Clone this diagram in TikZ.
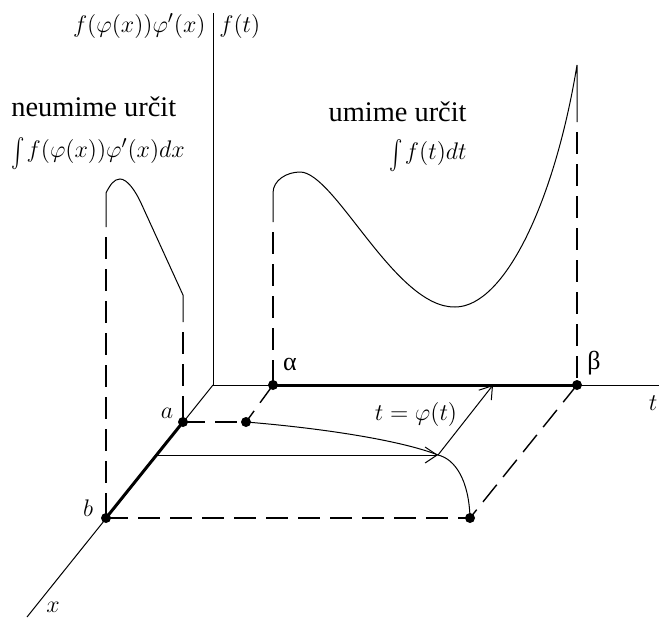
\documentclass[tikz,border=0pt]{standalone}
\usepackage{fontspec}
\setmainfont{Liberation Serif}
\usetikzlibrary{arrows.meta}

\begin{document}
\begin{tikzpicture}[x=0.5pt,y=-0.5pt,
	dsh/.style={line width=0.7pt,dash pattern=on 11pt off 5pt},
	hvy/.style={line width=1.5pt},
	arr/.style={-{Straight Barb[length=6pt,width=8pt]}},
	lab/.style={inner sep=0pt,font=\fontsize{14.2}{17}\selectfont},
	mlab/.style={inner sep=0pt,font=\fontsize{13}{15}\selectfont}]
	\useasboundingbox (0,0) rectangle (659,617);
	% axes and points
	\coordinate (O) at (213,385);
	\coordinate (ftop) at (213,13);
	\coordinate (tend) at (659,385);
	\coordinate (xend) at (27,617);
	\coordinate (a) at (183,422);
	\coordinate (b) at (106,518);
	\coordinate (al) at (273,385);
	\coordinate (be) at (577,385);
	\coordinate (p) at (246,422);
	\coordinate (q) at (470,518);
	\coordinate (s) at (157,455);
	\coordinate (m) at (438,455);
	\coordinate (n) at (493,385);
	% ends of the two graphs
	\coordinate (fl1) at (106,193);
	\coordinate (fl2) at (106,227);
	\coordinate (fr1) at (183,295);
	\coordinate (fr2) at (183,322);
	\coordinate (gl1) at (273,193);
	\coordinate (gl2) at (273,222);
	\coordinate (gr1) at (577,65);
	\coordinate (gr2) at (577,122);
	\draw[line width=0.5pt] (ftop) -- (O) -- (tend);
	\draw[line width=0.5pt] (O) -- (xend);
	% dashed projections
	\draw[dsh,dash phase=11pt] (fl2) -- (b);
	\draw[dsh,dash phase=11pt] (fr2) -- (a);
	\draw[dsh,dash phase=11pt] (gl2) -- (al);
	\draw[dsh,dash phase=11pt] (gr2) -- (be);
	\draw[dsh] (a) -- (p);
	\draw[dsh] (al) -- (p);
	\draw[dsh] (b) -- (q);
	\draw[dsh] (be) -- (q);
	% graphs
	\draw[line width=0.5pt] (fl2) -- (fl1) .. controls (110,185) and (114,179) .. (120,179)
		.. controls (127,179) and (135,190) .. (141,203) -- (fr1) -- (fr2);
	\draw[line width=0.5pt] (gl2) -- (gl1) .. controls (273,180) and (287,172) .. (300,172)
		.. controls (335,172) and (395,308) .. (455,307)
		.. controls (505,307) and (555,200) .. (gr1) -- (gr2);
	% t = phi curve and arrows
	\draw[line width=0.5pt] (p) .. controls (320,428) and (400,440) .. (m)
		.. controls (455,459) and (469,480) .. (q);
	\draw[line width=0.5pt,arr] (s) -- (m);
	\draw[line width=0.5pt,arr] (m) -- (n);
	\draw[hvy] (al) -- (be);
	\draw[hvy] (a) -- (b);
	\foreach \pt in {a,b,al,be,p,q}
		\fill (\pt) circle (2.5pt);
	% labels
	\node[mlab,anchor=east] (flab) at (206,26) {$f(\varphi(x))\varphi'(x)$};
	\node[mlab,anchor=west] (tlab) at (219,26) {$f(t)$};
	\node[lab,anchor=base west] (neu) at (11,116) {neumime určit};
	\node[mlab,anchor=base west] (intl) at (11,157)
		{\raisebox{-0.2em}{\scalebox{1}[1.45]{$\int$}}\kern1pt$f(\varphi(x))\varphi'(x)dx$};
	\node[lab,anchor=base east] (um) at (467,121) {umime určit};
	\node[mlab,anchor=base east] (intr) at (467,159)
		{\raisebox{-0.2em}{\scalebox{1}[1.45]{$\int$}}\kern1pt$f(t)dt$};
	\node[mlab] (alab) at (167,413) {$a$};
	\node[mlab] (blab) at (88,508) {$b$};
	\node[mlab] (xlab) at (53,607) {$x$};
	\node[mlab] (tax) at (653,403) {$t$};
	\node[mlab] (allab) at (290,364) {α};
	\node[mlab] (belab) at (594,363) {β};
	\node[mlab] (phlab) at (416,414) {$t=\varphi(t)$};
\end{tikzpicture}
\end{document}
